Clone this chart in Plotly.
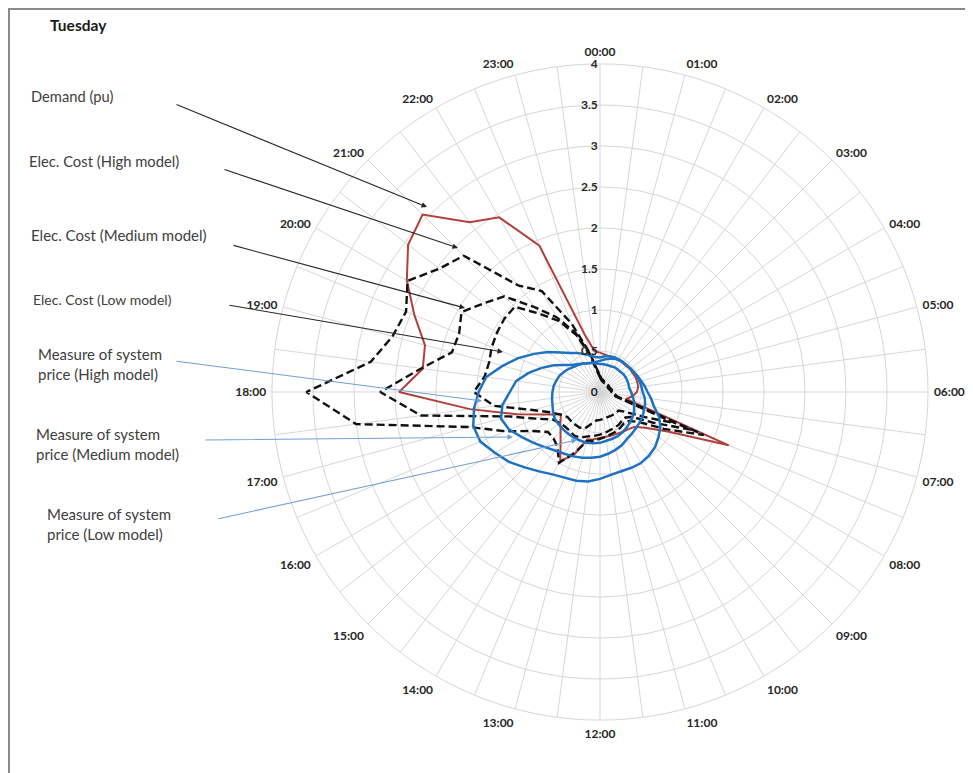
import plotly.graph_objects as go

W, H = 965, 765   # visible page area (browser body margin is 8 px)
OFF = 8

times = ["00:00", "00:30", "01:00", "01:30", "02:00", "02:30", "03:00", "03:30",
         "04:00", "04:30", "05:00", "05:30", "06:00", "06:30", "07:00", "07:30",
         "08:00", "08:30", "09:00", "09:30", "10:00", "10:30", "11:00", "11:30",
         "12:00", "12:30", "13:00", "13:30", "14:00", "14:30", "15:00", "15:30",
         "16:00", "16:30", "17:00", "17:30", "18:00", "18:30", "19:00", "19:30",
         "20:00", "20:30", "21:00", "21:30", "22:00", "22:30", "23:00", "23:30"]

hour_labels = ["00:00", "", "01:00", "", "02:00", "", "03:00", "", "04:00", "", "05:00", "",
               "06:00", "", "07:00", "", "08:00", "", "09:00", "", "10:00", "", "11:00", "",
               "12:00", "", "13:00", "", "14:00", "", "15:00", "", "16:00", "", "17:00", "",
               "18:00", "", "19:00", "", "20:00", "", "21:00", "", "22:00", "", "23:00", ""]

demand = [0.48, 0.46, 0.45, 0.45, 0.45, 0.45, 0.45, 0.46, 0.46, 0.47, 0.47, 0.47,
          0.45, 0.40, 0.33, 1.70, 0.97, 0.72, 0.60, 0.57, 0.56, 0.55, 0.55, 0.55,
          0.56, 0.58, 0.60, 0.83, 0.97, 0.79, 0.68, 0.61, 0.55, 0.72, 1.05, 1.60,
          2.45, 2.18, 2.21, 2.45, 2.72, 2.95, 3.06, 2.61, 2.46, 1.93, 0.73, 0.50]

cost_high = [0.20, 0.16, 0.15, 0.14, 0.14, 0.13, 0.13, 0.13, 0.13, 0.13, 0.14, 0.15,
             0.16, 0.18, 0.22, 1.37, 0.90, 0.60, 0.50, 0.48, 0.50, 0.52, 0.53, 0.55,
             0.57, 0.60, 0.62, 0.80, 1.00, 0.85, 0.80, 0.80, 0.95, 1.25, 1.65, 3.00,
             3.58, 2.82, 2.62, 2.56, 2.71, 2.47, 2.35, 1.64, 1.42, 0.90, 0.50, 0.28]

cost_medium = [0.19, 0.15, 0.14, 0.13, 0.13, 0.12, 0.12, 0.12, 0.12, 0.12, 0.13, 0.14,
               0.15, 0.17, 0.20, 1.20, 0.75, 0.50, 0.44, 0.44, 0.46, 0.47, 0.48, 0.50,
               0.52, 0.54, 0.56, 0.60, 0.62, 0.60, 0.60, 0.62, 0.67, 0.85, 1.15, 2.20,
               2.68, 2.20, 1.87, 1.86, 1.95, 1.78, 1.65, 1.30, 1.05, 0.78, 0.48, 0.26]

cost_low = [0.18, 0.14, 0.13, 0.12, 0.12, 0.11, 0.11, 0.11, 0.11, 0.11, 0.12, 0.13,
            0.14, 0.16, 0.19, 1.00, 0.60, 0.40, 0.32, 0.32, 0.32, 0.32, 0.32, 0.33,
            0.34, 0.35, 0.40, 0.48, 0.50, 0.50, 0.50, 0.50, 0.55, 0.65, 0.85, 1.30,
            1.54, 1.42, 1.40, 1.43, 1.45, 1.47, 1.47, 1.20, 1.00, 0.75, 0.46, 0.25]

price_high = [0.42, 0.44, 0.45, 0.46, 0.46, 0.46, 0.46, 0.47, 0.48, 0.50, 0.52, 0.55,
              0.58, 0.63, 0.68, 0.78, 0.85, 0.90, 0.95, 0.98, 1.00, 1.00, 1.00, 1.02,
              1.06, 1.10, 1.12, 1.13, 1.16, 1.22, 1.30, 1.40, 1.48, 1.58, 1.60, 1.55,
              1.48, 1.40, 1.23, 1.08, 0.93, 0.80, 0.68, 0.60, 0.55, 0.50, 0.46, 0.43]

price_medium = [0.38, 0.40, 0.42, 0.44, 0.45, 0.46, 0.46, 0.47, 0.48, 0.49, 0.50, 0.51,
                0.52, 0.55, 0.57, 0.58, 0.60, 0.61, 0.62, 0.64, 0.66, 0.70, 0.73, 0.76,
                0.79, 0.81, 0.83, 0.85, 0.87, 0.90, 0.95, 1.02, 1.10, 1.20, 1.25, 1.20,
                1.10, 1.03, 0.90, 0.77, 0.65, 0.54, 0.47, 0.43, 0.40, 0.38, 0.37, 0.37]

price_low = [0.34, 0.34, 0.34, 0.34, 0.35, 0.35, 0.35, 0.36, 0.36, 0.36, 0.36, 0.36,
             0.38, 0.40, 0.43, 0.45, 0.48, 0.50, 0.52, 0.54, 0.56, 0.58, 0.59, 0.60,
             0.62, 0.63, 0.64, 0.64, 0.64, 0.64, 0.64, 0.64, 0.64, 0.62, 0.60, 0.59,
             0.58, 0.57, 0.55, 0.53, 0.50, 0.47, 0.44, 0.42, 0.40, 0.38, 0.37, 0.35]

radial_ticks = [0, 0.5, 1, 1.5, 2, 2.5, 3, 3.5, 4]
radial_ticktext = ["0", "0.5", "1", "1.5", "2", "2.5", "3", "3.5", "4"]

RED = "#b0413a"
BLUE = "#1f72c2"
BLACK = "#111111"

series = [
    ("Demand (pu)", demand, dict(color=RED, width=2)),
    ("Elec. Cost (High model)", cost_high, dict(color=BLACK, width=2.4, dash="8px,4px")),
    ("Elec. Cost (Medium model)", cost_medium, dict(color=BLACK, width=2.4, dash="8px,4px")),
    ("Elec. Cost (Low model)", cost_low, dict(color=BLACK, width=2.4, dash="8px,4px")),
    ("Measure of system price (High model)", price_high, dict(color=BLUE, width=2.5)),
    ("Measure of system price (Medium model)", price_medium, dict(color=BLUE, width=2.5)),
    ("Measure of system price (Low model)", price_low, dict(color=BLUE, width=2.5)),
]

fig = go.Figure()
for name, vals, line in series:
    fig.add_trace(go.Scatterpolar(
        r=vals + vals[:1], theta=times + times[:1], mode="lines",
        name=name, line=line, hoverinfo="skip"))

FONT = "Lato"
GRID = "#d6d6d6"


def px(x):
    return (x - OFF) / W


def py(y):
    return 1 - (y - OFF) / H


annotations = [
    dict(text="<b>Tuesday</b>", x=px(48), y=py(25), font=dict(size=15.5, color="#1a1a1a")),
    dict(text="Demand (pu)", x=px(29), y=py(96), font=dict(size=14.7, color="#404040")),
    dict(text="Elec. Cost (High model)", x=px(27), y=py(161), font=dict(size=14.8, color="#404040")),
    dict(text="Elec. Cost (Medium model)", x=px(29), y=py(235), font=dict(size=15, color="#404040")),
    dict(text="Elec. Cost (Low model)", x=px(31), y=py(299), font=dict(size=14, color="#404040")),
    dict(text="Measure of system<br>price (High model)", x=px(36), y=py(364), font=dict(size=15, color="#404040")),
    dict(text="Measure of system<br>price (Medium model)", x=px(34), y=py(444), font=dict(size=15, color="#404040")),
    dict(text="Measure of system<br>price (Low model)", x=px(45), y=py(524), font=dict(size=15, color="#404040")),
]
for a in annotations:
    a.update(xref="paper", yref="paper", xanchor="left", yanchor="middle",
             showarrow=False, align="left")
    a["font"]["family"] = FONT

arrows = [
    ((175, 104), (427, 207), "#262626"),
    ((223, 169), (458, 248), "#262626"),
    ((232, 245), (465, 308), "#262626"),
    ((228, 305), (503, 352), "#262626"),
    ((175, 361), (482, 401), "#6f9fd4"),
    ((204, 440), (513, 437), "#6f9fd4"),
    ((217, 519), (577, 440), "#6f9fd4"),
]
for (tx, ty), (hx, hy), col in arrows:
    annotations.append(dict(
        text="", x=px(hx), y=py(hy), ax=tx - hx, ay=ty - hy,
        xref="paper", yref="paper", axref="pixel", ayref="pixel",
        showarrow=True, arrowhead=2, arrowsize=1, arrowwidth=1.1, arrowcolor=col))

CX, CY, R = 600, 392, 328

fig.update_layout(
    width=W, height=H,
    margin=dict(l=0, r=0, t=0, b=0),
    paper_bgcolor="white",
    showlegend=False,
    font=dict(family=FONT, color="#404040"),
    annotations=annotations,
    shapes=[dict(type="rect", xref="paper", yref="paper",
                 x0=px(9), y0=py(9), x1=1.05, y1=-0.05,
                 line=dict(color="#8a8a8a", width=2))],
    polar=dict(
        domain=dict(x=[px(CX - R), px(CX + R)], y=[py(CY + R), py(CY - R)]),
        bgcolor="white",
        angularaxis=dict(
            type="category", categoryorder="array", categoryarray=times,
            rotation=90, direction="clockwise",
            tickmode="array", tickvals=times, ticktext=hour_labels,
            showgrid=True, gridcolor=GRID, gridwidth=1,
            showline=True, linecolor=GRID, linewidth=1,
            ticks="outside", ticklen=3, tickcolor="rgba(0,0,0,0)",
            tickfont=dict(size=12, color="#262626", family=FONT, weight="bold"),
        ),
        radialaxis=dict(
            range=[0, 4], tickmode="array", tickvals=radial_ticks, ticktext=radial_ticktext,
            angle=90, tickangle=90, side="counterclockwise", showline=False, ticks="",
            showgrid=True, gridcolor=GRID, gridwidth=1,
            tickfont=dict(size=12, color="#262626", family=FONT, weight="bold"),
        ),
    ),
)

fig.write_html("out.html")
